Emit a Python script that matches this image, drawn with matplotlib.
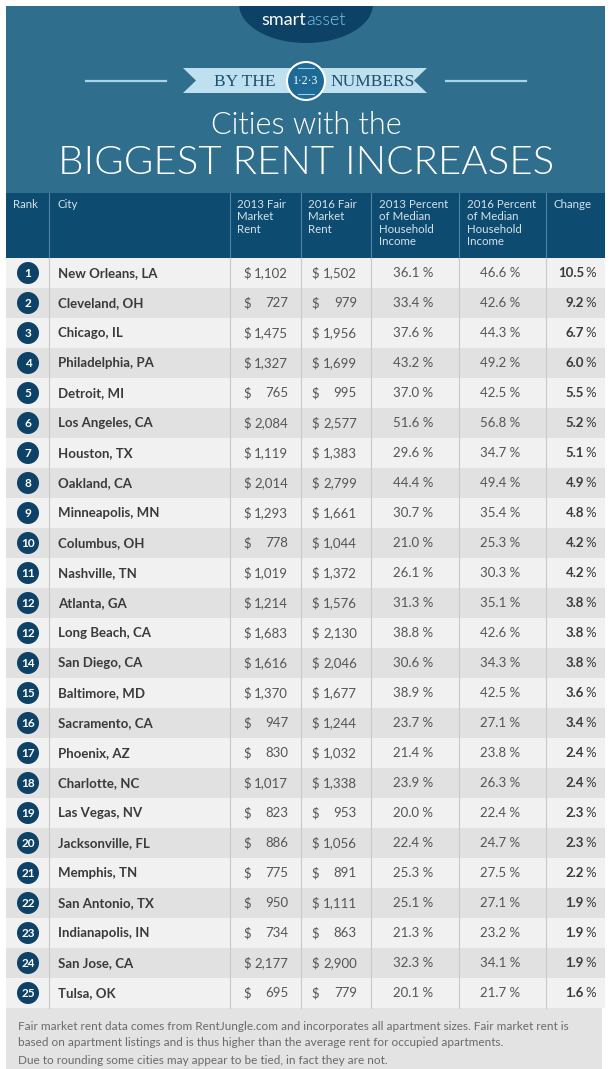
import matplotlib
matplotlib.use("Agg")
import matplotlib.pyplot as plt
from matplotlib.patches import Rectangle, Circle, Ellipse, Polygon

ranks = [1, 2, 3, 4, 5, 6, 7, 8, 9, 10, 11, 12, 12, 14, 15, 16, 17, 18, 19, 20, 21, 22, 23, 24, 25]
cities = ["New Orleans, LA", "Cleveland, OH", "Chicago, IL", "Philadelphia, PA", "Detroit, MI",
          "Los Angeles, CA", "Houston, TX", "Oakland, CA", "Minneapolis, MN", "Columbus, OH",
          "Nashville, TN", "Atlanta, GA", "Long Beach, CA", "San Diego, CA", "Baltimore, MD",
          "Sacramento, CA", "Phoenix, AZ", "Charlotte, NC", "Las Vegas, NV", "Jacksonville, FL",
          "Memphis, TN", "San Antonio, TX", "Indianapolis, IN", "San Jose, CA", "Tulsa, OK"]
rent_2013 = [1102, 727, 1475, 1327, 765, 2084, 1119, 2014, 1293, 778, 1019, 1214, 1683, 1616, 1370,
             947, 830, 1017, 823, 886, 775, 950, 734, 2177, 695]
rent_2016 = [1502, 979, 1956, 1699, 995, 2577, 1383, 2799, 1661, 1044, 1372, 1576, 2130, 2046, 1677,
             1244, 1032, 1338, 953, 1056, 891, 1111, 863, 2900, 779]
pct_2013 = [36.1, 33.4, 37.6, 43.2, 37.0, 51.6, 29.6, 44.4, 30.7, 21.0, 26.1, 31.3, 38.8, 30.6, 38.9,
            23.7, 21.4, 23.9, 20.0, 22.4, 25.3, 25.1, 21.3, 32.3, 20.1]
pct_2016 = [46.6, 42.6, 44.3, 49.2, 42.5, 56.8, 34.7, 49.4, 35.4, 25.3, 30.3, 35.1, 42.6, 34.3, 42.5,
            27.1, 23.8, 26.3, 22.4, 24.7, 27.5, 27.1, 23.2, 34.1, 21.7]
change = [10.5, 9.2, 6.7, 6.0, 5.5, 5.2, 5.1, 4.9, 4.8, 4.2, 4.2, 3.8, 3.8, 3.8, 3.6,
          3.4, 2.4, 2.4, 2.3, 2.3, 2.2, 1.9, 1.9, 1.9, 1.6]
headers = ["Rank", "City", "2013 Fair\nMarket\nRent", "2016 Fair\nMarket\nRent",
           "2013 Percent\nof Median\nHousehold\nIncome", "2016 Percent\nof Median\nHousehold\nIncome",
           "Change"]
footnotes = ["Fair market rent data comes from RentJungle.com and incorporates all apartment sizes. Fair market rent is",
             "based on apartment listings and is thus higher than the average rent for occupied apartments.",
             "Due to rounding some cities may appear to be tied, in fact they are not."]

W, H = 611, 1069
fig = plt.figure(figsize=(W / 100, H / 100), dpi=100)
ax = fig.add_axes([0, 0, 1, 1])
ax.set_xlim(0, W)
ax.set_ylim(H, 0)
ax.axis("off")

FONT = "Lato"
BLUE = "#2f6e8d"
DARK = "#0e4b70"
NAVY = "#0d4266"

L, R = 6, 605
# title area
bg = Rectangle((L, 6), R - L, 187, facecolor=BLUE, edgecolor="none")
ax.add_patch(bg)
ell = Ellipse((306, 4), 134, 78, facecolor=NAVY, edgecolor="none")
ax.add_patch(ell)
ell.set_clip_path(bg)
ax.text(306, 20, "smart", ha="right", va="center", fontsize=13, color="white", family=FONT)
ax.text(306, 20, "asset", ha="left", va="center", fontsize=13, color="#7fc4e3", family=FONT,
        weight=300)

# ribbon
ax.plot([86, 166], [81, 81], color="#a9d3e6", lw=1.6)
ax.plot([446, 526], [81, 81], color="#a9d3e6", lw=1.6)
rib = Polygon([(183, 68), (427, 68), (414, 80.5), (427, 93), (183, 93), (196, 80.5)],
              closed=True, facecolor="#bfe0ee", edgecolor="none")
ax.add_patch(rib)
ax.text(245, 81.5, "BY THE", ha="center", va="center", fontsize=12.5, color="#1d4f70",
        family="Liberation Serif")
ax.text(373, 81.5, "NUMBERS", ha="center", va="center", fontsize=12.5, color="#1d4f70",
        family="Liberation Serif")
ax.add_patch(Circle((306, 81), 19, facecolor="#1d6a95", edgecolor="white", lw=1.5))
ax.text(306, 81, "1·2·3", ha="center", va="center", fontsize=8.5, color="white",
        family="Liberation Serif")
ax.plot([298, 314], [68, 68], color="#9fcbe0", lw=0.8)
ax.plot([298, 314], [94, 94], color="#9fcbe0", lw=0.8)

ax.text(306, 125, "Cities with the", ha="center", va="center", fontsize=22, color="white",
        family=FONT, weight=300)
ax.text(306, 163, "BIGGEST RENT INCREASES", ha="center", va="center", fontsize=29,
        color="white", family=FONT, weight=300)

# table header
HT, HB = 193, 258
ax.add_patch(Rectangle((L, HT), R - L, HB - HT, facecolor=DARK, edgecolor="none"))
col_edges = [L, 49, 230, 301, 371, 459, 546, R]
hx = [13, 57, 237, 308, 379, 467, 553]
for x, h in zip(hx, headers):
    ax.text(x, 199, h, ha="left", va="top", fontsize=8.3, color="#d5e2ea", family=FONT,
            linespacing=1.15)
for x in col_edges[1:-1]:
    ax.plot([x, x], [HT, HB], color="#4f84a6", lw=0.8)

# rows
row_h = (1008 - HB) / len(cities)
for i in range(len(cities)):
    top = HB + i * row_h
    cy = top + row_h / 2
    ax.add_patch(Rectangle((L, top), R - L, row_h,
                           facecolor="#f1f1f1" if i % 2 == 0 else "#e1e1e1", edgecolor="none"))
    ax.add_patch(Circle((28, cy), 11, facecolor=NAVY, edgecolor="none"))
    ax.text(28, cy + 0.5, str(ranks[i]), ha="center", va="center", fontsize=8.5, color="white",
            family=FONT, weight="bold")
    ax.text(58, cy, cities[i], ha="left", va="center", fontsize=9.5, color="#3a3a3a",
            family=FONT, weight="bold")
    ax.text(243, cy, "$", ha="left", va="center", fontsize=9.5, color="#555555", family=FONT)
    ax.text(288, cy, f"{rent_2013[i]:,}", ha="right", va="center", fontsize=9.5,
            color="#555555", family=FONT)
    ax.text(311, cy, "$", ha="left", va="center", fontsize=9.5, color="#555555", family=FONT)
    ax.text(357, cy, f"{rent_2016[i]:,}", ha="right", va="center", fontsize=9.5,
            color="#555555", family=FONT)
    ax.text(413, cy, f"{pct_2013[i]:.1f} %", ha="center", va="center", fontsize=9.5,
            color="#555555", family=FONT)
    ax.text(500, cy, f"{pct_2016[i]:.1f} %", ha="center", va="center", fontsize=9.5,
            color="#555555", family=FONT)
    ax.text(584, cy, f"{change[i]:.1f}", ha="right", va="center", fontsize=9.5,
            color="#3a3a3a", family=FONT, weight="bold")
    ax.text(596, cy, "%", ha="right", va="center", fontsize=9.5, color="#3a3a3a", family=FONT)
for x in col_edges[1:-1]:
    ax.plot([x, x], [HB, 1008], color="#c9c9c9", lw=0.8)

# footer
ax.add_patch(Rectangle((L, 1008), R - L - 3, H - 1008, facecolor="#e3e3e3", edgecolor="none"))
for y, t in zip([1027, 1043, 1060], footnotes):
    ax.text(18, y, t, ha="left", va="center", fontsize=8.5, color="#6a6a6a", family=FONT)

fig.savefig("out.png", dpi=100, facecolor="white")
